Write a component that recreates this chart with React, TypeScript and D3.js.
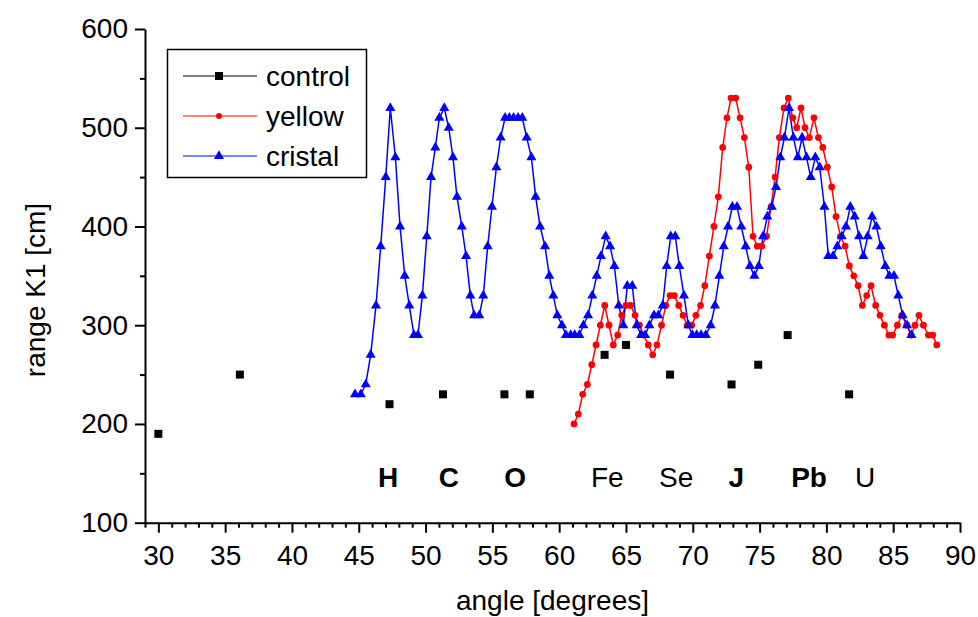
import React, { Component } from 'react';
import * as d3 from 'd3';

// control (black squares)
const controlX = [30.0, 36.1, 47.3, 51.3, 55.9, 57.8, 63.4, 65.0, 68.3, 72.9, 74.9, 77.1, 81.7];
const controlY = [190, 250, 220, 230, 230, 230, 270, 280, 250, 240, 260, 290, 230];

// yellow (red dots)
const yellowX = [
  61.11, 61.43, 61.76, 62.11, 62.44, 62.76, 63.08, 63.41, 63.73, 64.05,
  64.38, 64.68, 65.0, 65.35, 65.68, 66.0, 66.33, 66.67, 67.0, 67.32,
  67.66, 67.98, 68.3, 68.62, 68.95, 69.27, 69.59, 69.92, 70.24, 70.58,
  70.9, 71.24, 71.58, 71.91, 72.24, 72.56, 72.86, 73.21, 73.54, 73.86,
  74.19, 74.51, 74.83, 75.16, 75.52, 75.86, 76.16, 76.48, 76.83, 77.15,
  77.48, 77.78, 78.1, 78.4, 78.72, 79.07, 79.4, 79.73, 80.07, 80.4,
  80.72, 81.06, 81.4, 81.72, 82.05, 82.37, 82.69, 83.02, 83.34, 83.69,
  84.01, 84.34, 84.67, 84.96, 85.31, 85.64, 86.01, 86.34, 86.63, 86.93,
  87.26, 87.63, 87.96, 88.26
];
const yellowY = [
  200, 210, 230, 240, 260, 280, 300, 320, 300, 280,
  290, 310, 320, 320, 310, 300, 290, 280, 270, 280,
  300, 320, 330, 330, 320, 310, 300, 300, 310, 320,
  340, 370, 400, 430, 480, 510, 530, 530, 510, 490,
  460, 390, 380, 380, 390, 420, 450, 490, 520, 530,
  510, 500, 520, 500, 490, 510, 490, 480, 460, 440,
  410, 390, 380, 360, 350, 340, 320, 330, 340, 320,
  310, 300, 290, 290, 300, 310, 300, 290, 300, 310,
  300, 290, 290, 280
];

// cristal (blue triangles)
const cristalX = [
  44.72, 45.15, 45.52, 45.89, 46.29, 46.64, 47.02, 47.36, 47.74, 48.09,
  48.44, 48.78, 49.13, 49.43, 49.76, 50.09, 50.41, 50.73, 51.03, 51.4,
  51.73, 52.05, 52.35, 52.71, 53.03, 53.35, 53.63, 54.02, 54.32, 54.65,
  54.97, 55.3, 55.62, 55.95, 56.27, 56.59, 56.92, 57.24, 57.57, 57.92,
  58.24, 58.57, 58.94, 59.26, 59.56, 59.86, 60.21, 60.51, 60.86, 61.16,
  61.51, 61.81, 62.16, 62.48, 62.81, 63.13, 63.48, 63.81, 64.13, 64.46,
  64.8, 65.1, 65.47, 65.8, 66.13, 66.43, 66.75, 67.1, 67.42, 67.75,
  68.05, 68.35, 68.69, 68.99, 69.34, 69.67, 69.97, 70.29, 70.62, 70.97,
  71.34, 71.66, 71.99, 72.32, 72.64, 72.96, 73.31, 73.63, 73.96, 74.28,
  74.61, 74.94, 75.26, 75.58, 75.91, 76.23, 76.55, 76.86, 77.2, 77.53,
  77.86, 78.18, 78.51, 78.83, 79.17, 79.5, 79.85, 80.14, 80.5, 80.82,
  81.15, 81.47, 81.79, 82.12, 82.44, 82.77, 83.09, 83.42, 83.74, 84.07,
  84.41, 84.71, 85.06, 85.38, 85.71, 86.04, 86.36
];
const cristalY = [
  230, 230, 240, 270, 320, 380, 450, 520, 470, 400,
  350, 320, 290, 290, 330, 390, 450, 480, 510, 520,
  500, 470, 430, 400, 370, 330, 310, 310, 330, 380,
  420, 460, 490, 510, 510, 510, 510, 510, 490, 470,
  430, 400, 380, 350, 330, 310, 300, 290, 290, 290,
  290, 300, 310, 330, 350, 370, 390, 380, 360, 320,
  300, 340, 340, 300, 290, 290, 300, 310, 310, 320,
  360, 390, 390, 360, 330, 300, 290, 290, 290, 290,
  300, 320, 350, 380, 400, 420, 420, 400, 380, 360,
  350, 360, 390, 410, 420, 440, 470, 490, 520, 490,
  470, 490, 470, 450, 470, 460, 420, 370, 370, 380,
  390, 400, 420, 410, 390, 370, 390, 410, 400, 380,
  360, 350, 350, 330, 310, 300, 290
];

// element labels
const elementNames = ['H', 'C', 'O', 'Fe', 'Se', 'J', 'Pb', 'U'];
const elementAngles = [47.2, 51.75, 56.7, 63.6, 68.75, 73.25, 78.7, 82.9];
const elementBold = [true, true, true, false, false, true, true, false];
const elementLevel = 136;

const xTicks = [30, 35, 40, 45, 50, 55, 60, 65, 70, 75, 80, 85, 90];
const yTicks = [100, 200, 300, 400, 500, 600];

const FONT = "Arial, 'Liberation Sans', sans-serif";

class App extends Component {
  myRef: any;
  width: number;
  height: number;

  constructor(props: any) {
    super(props);
    this.myRef = React.createRef();
    this.width = 978;
    this.height = 617;
  }

  componentDidMount() {
    let svg = d3.select(this.myRef.current)
      .append('svg')
      .attr('width', this.width)
      .attr('height', this.height)
      .style('display', 'block')
      .style('background', '#fff');

    let x = d3.scaleLinear().domain([29, 90]).range([145, 960]);
    let y = d3.scaleLinear().domain([100, 600]).range([522.7, 29]);

    // minor ticks
    let minorX = d3.range(29, 91, 1).filter(v => v % 5 !== 0);
    let minorY = d3.range(150, 600, 100);

    let xMinor = svg.append('g')
      .attr('transform', 'translate(0,' + y(100) + ')')
      .call(d3.axisBottom(x).tickValues(minorX).tickSize(5).tickSizeOuter(0).tickFormat(() => ''));
    xMinor.select('.domain').remove();

    let yMinor = svg.append('g')
      .attr('transform', 'translate(' + x(29) + ',0)')
      .call(d3.axisLeft(y).tickValues(minorY).tickSize(5).tickSizeOuter(0).tickFormat(() => ''));
    yMinor.select('.domain').remove();

    let xAxis = svg.append('g')
      .attr('transform', 'translate(0,' + y(100) + ')')
      .call(d3.axisBottom(x).tickValues(xTicks).tickSize(10).tickSizeOuter(0).tickPadding(12));

    let yAxis = svg.append('g')
      .attr('transform', 'translate(' + x(29) + ',0)')
      .call(d3.axisLeft(y).tickValues(yTicks).tickSize(10).tickSizeOuter(0).tickPadding(7));

    svg.selectAll('.tick line, .domain')
      .attr('stroke', '#000')
      .attr('stroke-width', 2);

    [xAxis, yAxis].forEach(a => {
      a.selectAll('text')
        .attr('font-family', FONT)
        .attr('font-size', 28)
        .attr('fill', '#000');
    });

    // axis titles
    svg.append('text')
      .attr('x', (x(29) + x(90)) / 2)
      .attr('y', 610)
      .attr('text-anchor', 'middle')
      .attr('font-family', FONT)
      .attr('font-size', 28)
      .text('angle [degrees]');

    svg.append('text')
      .attr('transform', 'translate(45,290) rotate(-90)')
      .attr('text-anchor', 'middle')
      .attr('font-family', FONT)
      .attr('font-size', 28)
      .text('range K1 [cm]');

    // element labels
    svg.append('g').selectAll('text')
      .data(elementNames)
      .enter().append('text')
      .attr('x', (d, i) => x(elementAngles[i]))
      .attr('y', y(elementLevel))
      .attr('text-anchor', 'middle')
      .attr('font-family', FONT)
      .attr('font-size', 28)
      .attr('font-weight', (d, i) => elementBold[i] ? 'bold' : 'normal')
      .text(d => d);

    let line = d3.line<number[]>()
      .x(d => x(d[0]))
      .y(d => y(d[1]));

    let yellow = yellowX.map((v, i) => [v, yellowY[i]]);
    let cristal = cristalX.map((v, i) => [v, cristalY[i]]);
    let control = controlX.map((v, i) => [v, controlY[i]]);

    svg.append('path')
      .datum(yellow)
      .attr('fill', 'none')
      .attr('stroke', '#ff0000')
      .attr('stroke-width', 1.5)
      .attr('d', line);

    svg.append('path')
      .datum(cristal)
      .attr('fill', 'none')
      .attr('stroke', '#0000ff')
      .attr('stroke-width', 1.5)
      .attr('d', line);

    let square = d3.symbol().type(d3.symbolSquare).size(64);
    let circle = d3.symbol().type(d3.symbolCircle).size(36);
    let triangle = d3.symbol().type(d3.symbolTriangle).size(44);

    svg.append('g').selectAll('path')
      .data(yellow)
      .enter().append('path')
      .attr('transform', d => 'translate(' + x(d[0]) + ',' + y(d[1]) + ')')
      .attr('d', circle)
      .attr('fill', '#ff0000');

    svg.append('g').selectAll('path')
      .data(cristal)
      .enter().append('path')
      .attr('transform', d => 'translate(' + x(d[0]) + ',' + y(d[1]) + ')')
      .attr('d', triangle)
      .attr('fill', '#0000ff');

    svg.append('g').selectAll('path')
      .data(control)
      .enter().append('path')
      .attr('transform', d => 'translate(' + x(d[0]) + ',' + y(d[1]) + ')')
      .attr('d', square)
      .attr('fill', '#000');

    // legend
    let legend = svg.append('g');
    legend.append('rect')
      .attr('x', 167.5)
      .attr('y', 49.5)
      .attr('width', 199)
      .attr('height', 128)
      .attr('fill', '#fff')
      .attr('stroke', '#000')
      .attr('stroke-width', 1.5);

    let entries = [
      { name: 'control', color: '#000', sym: square },
      { name: 'yellow', color: '#ff0000', sym: d3.symbol().type(d3.symbolCircle).size(28) },
      { name: 'cristal', color: '#0000ff', sym: triangle }
    ];
    entries.forEach((e, i) => {
      let ly = 76 + i * 40;
      legend.append('line')
        .attr('x1', 183).attr('x2', 257)
        .attr('y1', ly).attr('y2', ly)
        .attr('stroke', e.color)
        .attr('stroke-width', 1.2);
      legend.append('path')
        .attr('transform', 'translate(219,' + ly + ')')
        .attr('d', e.sym)
        .attr('fill', e.color);
      legend.append('text')
        .attr('x', 266)
        .attr('y', ly)
        .attr('dy', '0.35em')
        .attr('font-family', FONT)
        .attr('font-size', 28)
        .text(e.name);
    });
  }

  render() {
    return (
      <div ref={this.myRef}
           style={{ position: 'absolute', left: 0, top: 0, width: this.width, height: this.height }}>
      </div>
    );
  }
}

export default App;
